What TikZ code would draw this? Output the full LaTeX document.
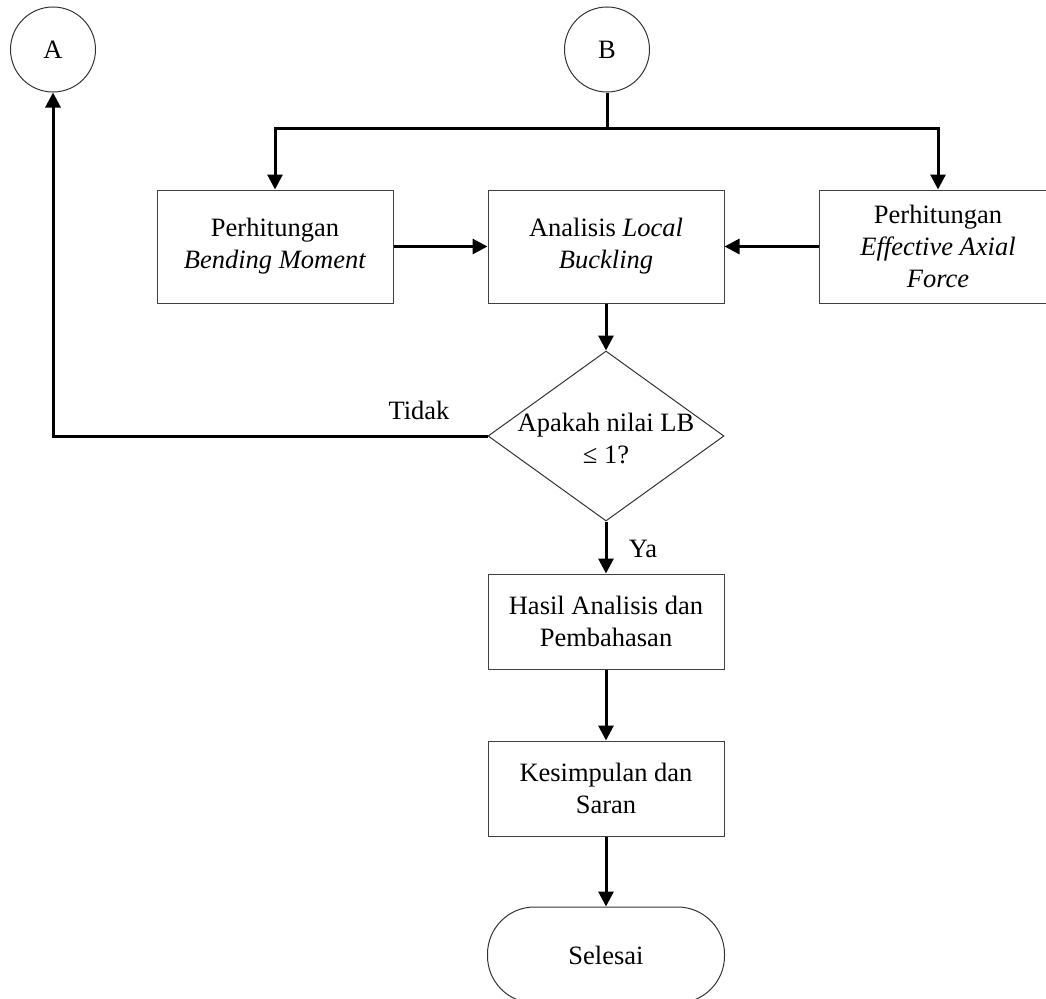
\documentclass[tikz,border=0pt]{standalone}
\usepackage{fontspec}
\setmainfont{Liberation Serif}
\usetikzlibrary{arrows.meta,shapes.geometric}
\begin{document}
\begin{tikzpicture}[x=1pt,y=-1pt,
  txt/.style={font=\fontsize{26.5}{32}\selectfont, align=center, inner sep=0pt},
  procbox/.style={txt, draw=black!75, line width=1pt, rectangle, minimum width=236pt},
  conncircle/.style={txt, draw=black!80, line width=1pt, circle, minimum size=85pt},
  conn/.style={line width=3pt, -{Triangle[width=15pt,length=15pt]}},
  plainline/.style={line width=3pt}
]
\useasboundingbox (0,0) rectangle (1046,998);

\node[conncircle] (A) at (53,49.5) {A};
\node[conncircle] (B) at (607,49.5) {B};

\node[procbox, minimum height=113pt] (L) at (275,246.5) {Perhitungan\\\textit{Bending Moment}};
\node[procbox, minimum height=113pt] (M) at (606,246.5) {Analisis \textit{Local}\\\textit{Buckling}};
\node[procbox, minimum height=113pt, minimum width=238pt] (R) at (938,246.5) {Perhitungan\\\textit{Effective Axial}\\\textit{Force}};

\node[diamond, draw=black!80, line width=1pt, inner sep=0pt, minimum width=236pt, minimum height=170pt] (D) at (606,436) {};
\node[txt] (Dt) at (606,438) {Apakah nilai LB\\≤ 1?};

\node[procbox, minimum height=95pt] (H) at (606,621.5) {Hasil Analisis dan\\Pembahasan};
\node[procbox, minimum height=95pt] (K) at (606,788.5) {Kesimpulan dan\\Saran};
\node[txt, draw=black!80, line width=1pt, rectangle, rounded corners=47pt, minimum width=237pt, minimum height=96pt] (S) at (606,955) {Selesai};

\coordinate (j) at (607,128);
\draw[plainline] (B.south) -- (j);
\draw[conn] (j) -| (L.north);
\draw[conn] (j) -| (R.north);
\draw[conn] (L.east) -- (M.west);
\draw[conn] (R.west) -- (M.east);
\draw[conn] (M.south) -- (D.north);
\draw[conn] (D.west) -| (A.south);
\draw[conn] (D.south) -- (H.north);
\draw[conn] (H.south) -- (K.north);
\draw[conn] (K.south) -- (S.north);

\node[txt] (tidak) at (419,410) {Tidak};
\node[txt] (ya) at (643,549) {Ya};
\end{tikzpicture}
\end{document}
